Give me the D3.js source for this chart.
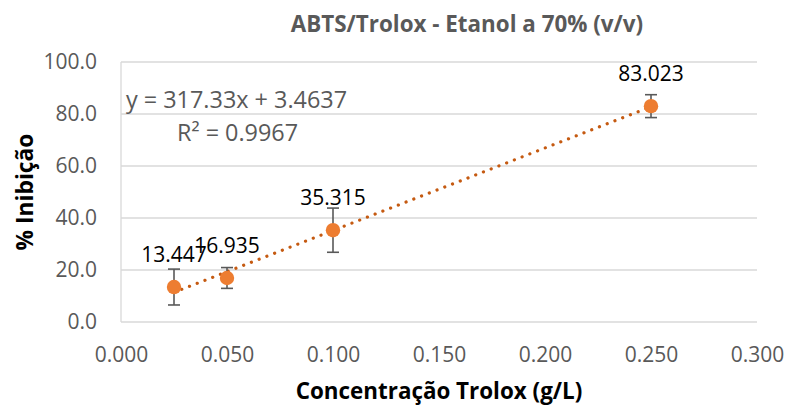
<!DOCTYPE html>
<html>
<head>
<meta charset="utf-8">
<script src="https://cdn.jsdelivr.net/npm/d3@7"></script>
<style>
  body { margin: 0; background: #fff; }
  svg { display: block; font-family: "Open Sans", sans-serif; }
</style>
</head>
<body>
<div id="chart"></div>
<script>
// data
var concentrations = [0.025, 0.050, 0.100, 0.250];
var inhibition = [13.447, 16.935, 35.315, 83.023];
var errors = [6.9, 4.0, 8.5, 4.4];
var xTicks = [0, 0.05, 0.1, 0.15, 0.2, 0.25, 0.3];
var yTicks = [0, 20, 40, 60, 80, 100];
var slope = 317.33, intercept = 3.4637, rSquared = 0.9967;

var width = 788, height = 405,
  margin = {top: 62, right: 31, bottom: 83, left: 121};

var svg = d3.select("#chart").append("svg")
  .attr("width", width)
  .attr("height", height);

svg.append("rect")
  .attr("width", width)
  .attr("height", height)
  .attr("fill", "#fff");

var x = d3.scaleLinear()
  .domain([0, 0.3])
  .range([margin.left, width - margin.right]);

var y = d3.scaleLinear()
  .domain([0, 100])
  .range([height - margin.bottom, margin.top]);

// gridlines
svg.append("g")
  .selectAll("line")
  .data(yTicks)
  .enter().append("line")
    .attr("x1", x(0))
    .attr("x2", x(0.3))
    .attr("y1", function(d) { return y(d); })
    .attr("y2", function(d) { return y(d); })
    .attr("stroke", "#d9d9d9")
    .attr("stroke-width", 1.3);

// left axis line
svg.append("line")
  .attr("x1", x(0)).attr("x2", x(0))
  .attr("y1", y(0)).attr("y2", y(100))
  .attr("stroke", "#d9d9d9")
  .attr("stroke-width", 1.3);

// tick labels
var xAxis = svg.append("g")
  .attr("transform", "translate(0," + y(0) + ")")
  .call(d3.axisBottom(x).tickValues(xTicks).tickFormat(d3.format(".3f")).tickSize(0).tickPadding(25));
var yAxis = svg.append("g")
  .attr("transform", "translate(" + (x(0) - 24) + ",0)")
  .call(d3.axisLeft(y).tickValues(yTicks).tickFormat(d3.format(".1f")).tickSize(0).tickPadding(0));

[xAxis, yAxis].forEach(function(a) {
  a.select(".domain").remove();
  a.selectAll("text")
    .attr("fill", "#595959")
    .style("font-size", "21px")
    .style("font-family", "'Open Sans', sans-serif");
});

// trendline
var trend = d3.line()
  .x(function(d) { return x(d); })
  .y(function(d) { return y(slope * d + intercept); });

svg.append("path")
  .datum([d3.min(concentrations), d3.max(concentrations)])
  .attr("d", trend)
  .attr("fill", "none")
  .attr("stroke", "#c55a11")
  .attr("stroke-width", 3.2)
  .attr("stroke-linecap", "round")
  .attr("stroke-dasharray", "0.1 8.2");

var points = concentrations.map(function(c, i) {
  return {x: c, y: inhibition[i], e: errors[i]};
});

// error bars
var err = svg.append("g")
  .attr("stroke", "#595959")
  .attr("stroke-width", 1.6)
  .selectAll("g")
  .data(points)
  .enter().append("g");

err.append("line")
  .attr("x1", function(d) { return x(d.x); })
  .attr("x2", function(d) { return x(d.x); })
  .attr("y1", function(d) { return y(d.y + d.e); })
  .attr("y2", function(d) { return y(d.y - d.e); });

[1, -1].forEach(function(s) {
  err.append("line")
    .attr("x1", function(d) { return x(d.x) - 6; })
    .attr("x2", function(d) { return x(d.x) + 6; })
    .attr("y1", function(d) { return y(d.y + s * d.e); })
    .attr("y2", function(d) { return y(d.y + s * d.e); });
});

// markers
svg.append("g")
  .selectAll("circle")
  .data(points)
  .enter().append("circle")
    .attr("cx", function(d) { return x(d.x); })
    .attr("cy", function(d) { return y(d.y); })
    .attr("r", 7.2)
    .attr("fill", "#ed7d31");

// data labels
svg.append("g")
  .selectAll("text")
  .data(points)
  .enter().append("text")
    .attr("x", function(d) { return x(d.x); })
    .attr("y", function(d) { return y(d.y) - 25; })
    .attr("text-anchor", "middle")
    .attr("fill", "#000")
    .style("font-size", "21px")
    .text(function(d) { return d3.format(".3f")(d.y); });

// regression equation
svg.append("text")
  .attr("x", 126)
  .attr("y", 108)
  .attr("fill", "#595959")
  .style("font-size", "23.4px")
  .text("y = " + slope + "x + " + intercept);

svg.append("text")
  .attr("x", 177)
  .attr("y", 141)
  .attr("fill", "#595959")
  .style("font-size", "23.4px")
  .text("R² = " + rSquared);

// titles
svg.append("text")
  .attr("x", 467)
  .attr("y", 32)
  .attr("text-anchor", "middle")
  .attr("fill", "#595959")
  .style("font-size", "22.4px")
  .style("font-weight", "bold")
  .text("ABTS/Trolox - Etanol a 70% (v/v)");

svg.append("text")
  .attr("x", 439)
  .attr("y", 399)
  .attr("text-anchor", "middle")
  .attr("fill", "#000")
  .style("font-size", "22.4px")
  .style("font-weight", "bold")
  .text("Concentração Trolox (g/L)");

svg.append("text")
  .attr("transform", "translate(33," + y(50) + ") rotate(-90)")
  .attr("text-anchor", "middle")
  .attr("fill", "#000")
  .style("font-size", "22.8px")
  .style("font-weight", "bold")
  .text("% Inibição");
</script>
</body>
</html>
